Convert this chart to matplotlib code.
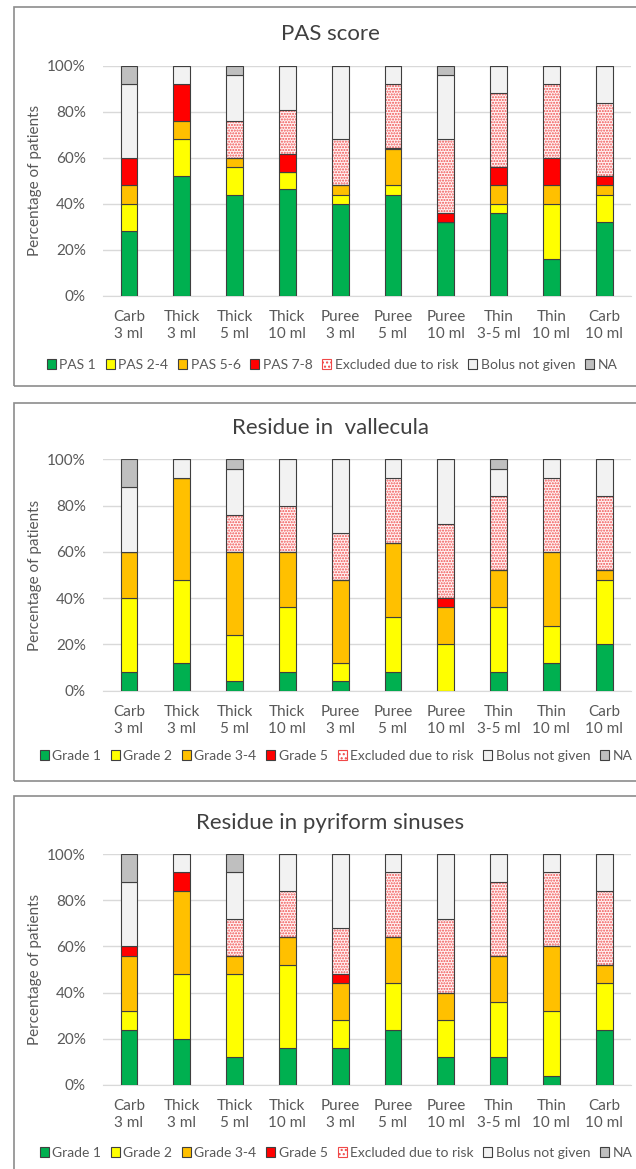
import matplotlib
matplotlib.use("Agg")
import matplotlib.pyplot as plt
from matplotlib.patches import Patch, Rectangle
import numpy as np

plt.rcParams['font.family'] = ['Lato', 'DejaVu Sans']
plt.rcParams['hatch.linewidth'] = 1.0

W, H = 636, 1169

categories = ["Carb\n3 ml", "Thick\n3 ml", "Thick\n5 ml", "Thick\n10 ml", "Puree\n3 ml",
              "Puree\n5 ml", "Puree\n10 ml", "Thin\n3-5 ml", "Thin\n10 ml", "Carb\n10 ml"]

# PAS score (% of patients)
pas_1 = [28, 52, 44, 46.2, 40, 44, 32, 36, 16, 32]
pas_2_4 = [12, 16, 12, 7.7, 4, 4, 0, 4, 24, 12]
pas_5_6 = [8, 8, 4, 0, 4, 16, 0, 8, 8, 4]
pas_7_8 = [12, 16, 0, 7.7, 0, 0, 4, 8, 12, 4]
pas_excl = [0, 0, 16, 19.2, 20, 28, 32, 32, 32, 32]
pas_bolus = [32, 8, 20, 19.2, 32, 8, 28, 12, 8, 16]
pas_na = [8, 0, 4, 0, 0, 0, 4, 0, 0, 0]

# Residue in vallecula
val_g1 = [8, 12, 4, 8, 4, 8, 0, 8, 12, 20]
val_g2 = [32, 36, 20, 28, 8, 24, 20, 28, 16, 28]
val_g34 = [20, 44, 36, 24, 36, 32, 16, 16, 32, 4]
val_g5 = [0, 0, 0, 0, 0, 0, 4, 0, 0, 0]
val_excl = [0, 0, 16, 20, 20, 28, 32, 32, 32, 32]
val_bolus = [28, 8, 20, 20, 32, 8, 28, 12, 8, 16]
val_na = [12, 0, 4, 0, 0, 0, 0, 4, 0, 0]

# Residue in pyriform sinuses
pyr_g1 = [24, 20, 12, 16, 16, 24, 12, 12, 4, 24]
pyr_g2 = [8, 28, 36, 36, 12, 20, 16, 24, 28, 20]
pyr_g34 = [24, 36, 8, 12, 16, 20, 12, 20, 28, 8]
pyr_g5 = [4, 8, 0, 0, 4, 0, 0, 0, 0, 0]
pyr_excl = [0, 0, 16, 20, 20, 28, 32, 32, 32, 32]
pyr_bolus = [28, 8, 20, 16, 32, 8, 28, 12, 8, 16]
pyr_na = [12, 0, 8, 0, 0, 0, 0, 0, 0, 0]

pas_labels = ["PAS 1", "PAS 2-4", "PAS 5-6", "PAS 7-8", "Excluded due to risk", "Bolus not given", "NA"]
grade_labels = ["Grade 1", "Grade 2", "Grade 3-4", "Grade 5", "Excluded due to risk", "Bolus not given", "NA"]

colors = ["#00B050", "#FFFF00", "#FFC000", "#FF0000", None, "#F2F2F2", "#BFBFBF"]
EDGE = "#3F3F3F"
TXT = "#595959"


def fx(px):
    return px / W


def fy(py):
    return 1 - py / H


fig = plt.figure(figsize=(W / 100, H / 100), dpi=100)


def draw_panel(box_top, box_bottom, top, bottom, title_y, title, series, labels, leg_x, leg_y):
    # border of the panel (right side runs off the image)
    fig.patches.append(Rectangle((fx(14), fy(box_bottom)), fx(700), (box_bottom - box_top) / H,
                                 transform=fig.transFigure, fill=False, edgecolor="#8C8C8C", lw=1.2))
    ax = fig.add_axes([fx(102.6), fy(bottom), fx(528), (bottom - top) / H])
    x = np.arange(len(categories))
    bottoms = np.zeros(len(categories))
    handles = []
    for vals, col, lab in zip(series, colors, labels):
        vals = np.array(vals, dtype=float)
        if col is None:
            ax.bar(x, vals, 0.32, bottom=bottoms, color="#FFF4F4", edgecolor="#F05050",
                   hatch="......", lw=0, zorder=2)
            ax.bar(x, vals, 0.32, bottom=bottoms, fill=False, edgecolor=EDGE, lw=0.8, zorder=3)
            handles.append(Patch(facecolor="white", edgecolor="#F04848", hatch="....", lw=0.8, label=lab))
        else:
            ax.bar(x, vals, 0.32, bottom=bottoms, color=col, edgecolor=EDGE, lw=0.8, zorder=3)
            handles.append(Patch(facecolor=col, edgecolor=EDGE, lw=0.8, label=lab))
        bottoms += vals
    ax.set_xlim(-0.5, 9.5)
    ax.set_ylim(0, 100)
    ax.set_yticks(range(0, 101, 20))
    ax.set_yticklabels([f"{v}%" for v in range(0, 101, 20)])
    ax.set_xticks(x)
    ax.set_xticklabels(categories, linespacing=1.3)
    ax.tick_params(length=0, colors=TXT, labelsize=11)
    ax.tick_params(axis="x", pad=10)
    ax.tick_params(axis="y", pad=12)
    ax.grid(axis="y", color="#D9D9D9", lw=1, zorder=0)
    for s in ["top", "right", "left"]:
        ax.spines[s].set_visible(False)
    ax.spines["bottom"].set_color("#D9D9D9")
    ax.set_ylabel("Percentage of patients", color=TXT, fontsize=11)
    ax.yaxis.set_label_coords(fx(42 - 102.6) * W / 528, 0.5)
    fig.text(fx(330), fy(title_y), title, ha="center", va="center", fontsize=16, color="#404040")
    fig.legend(handles=handles, loc="center", bbox_to_anchor=(fx(leg_x), fy(leg_y)), ncol=7,
               frameon=False, fontsize=10, handlelength=0.65, handleheight=0.65, handletextpad=0.25,
               columnspacing=0.7, labelcolor=TXT, borderpad=0)


draw_panel(7, 386, 65.7, 295.7, 34, "PAS score",
           [pas_1, pas_2_4, pas_5_6, pas_7_8, pas_excl, pas_bolus, pas_na], pas_labels, 332, 365)
draw_panel(402.7, 780.7, 459.3, 690.7, 428, "Residue in  vallecula",
           [val_g1, val_g2, val_g34, val_g5, val_excl, val_bolus, val_na], grade_labels, 336, 756)
draw_panel(796, 1200, 854, 1085, 823, "Residue in pyriform sinuses",
           [pyr_g1, pyr_g2, pyr_g34, pyr_g5, pyr_excl, pyr_bolus, pyr_na], grade_labels, 336, 1153)

fig.savefig("out.png", dpi=100)
